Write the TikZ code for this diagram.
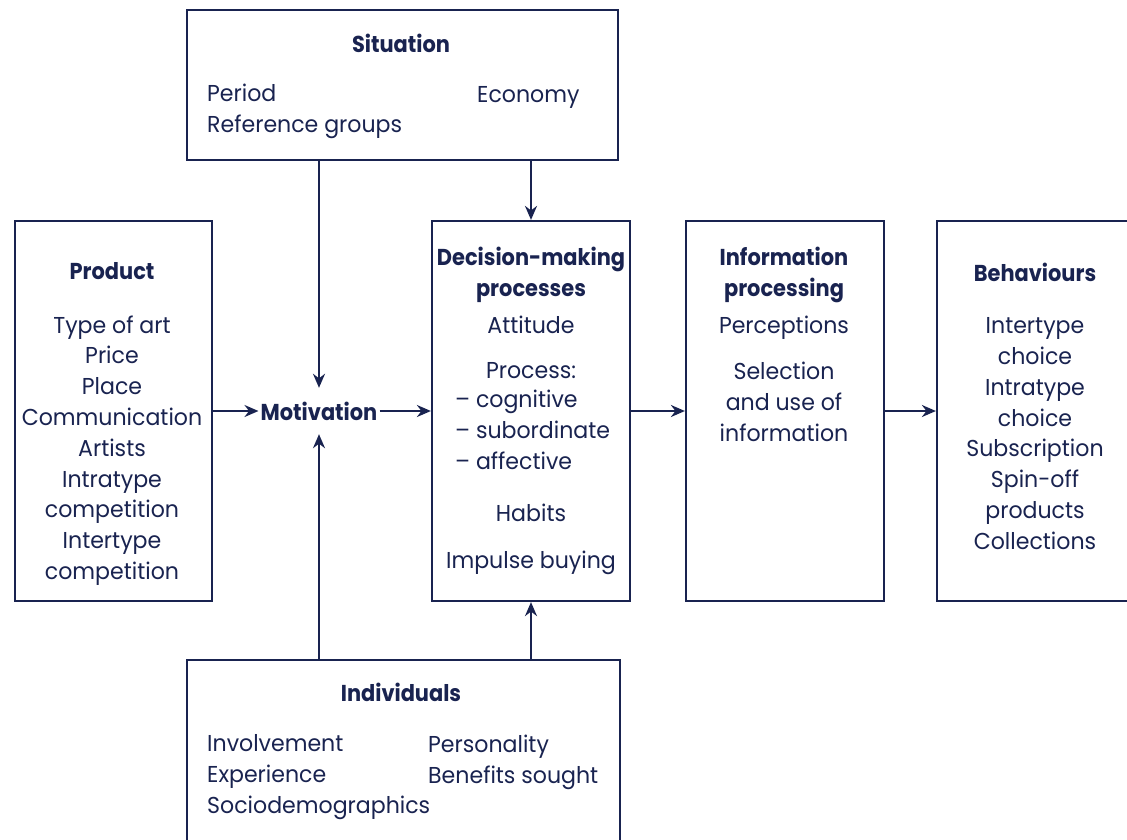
\documentclass[tikz,border=0pt]{standalone}
\usepackage{fontspec}
\setmainfont{Poppins}[FakeStretch=0.96]
\newfontfamily\titlefont{Poppins}[FakeStretch=0.91]
\usetikzlibrary{arrows.meta}
\definecolor{navy}{RGB}{25,35,80}
\begin{document}
\begin{tikzpicture}[x=1pt,y=-1pt,
  every node/.style={text=navy,font=\fontsize{23}{30.8}\selectfont},
  box/.style={draw=navy,line width=2.2pt,rectangle,inner sep=0pt},
  ttl/.style={font=\fontsize{23}{30.8}\selectfont\titlefont\bfseries,align=center},
  txt/.style={align=center,inner sep=0pt},
  ltxt/.style={align=left,anchor=west,inner sep=0pt},
  arr/.style={draw=navy,line width=2.2pt,-{Stealth[length=14pt,width=12pt]}}]
\useasboundingbox (0,0) rectangle (1127,839);
% boxes
\node[box,minimum width=431pt,minimum height=150pt] (sit) at (402.5,85) {};
\node[box,minimum width=197pt,minimum height=380pt] (prod) at (113.5,411) {};
\node[box,minimum width=198pt,minimum height=380pt] (dec) at (531,411) {};
\node[box,minimum width=198pt,minimum height=380pt] (info) at (785,411) {};
\node[box,minimum width=198pt,minimum height=380pt] (beh) at (1036,411) {};
\node[box,minimum width=433pt,minimum height=220pt] (ind) at (403.5,770) {};
% situation
\node[ttl] (sitt) at (401,43) {Situation};
\node[ltxt] (sit1) at (207,111) {Period\\Reference groups};
\node[ltxt] (sit2) at (477,97) {Economy};
% product
\node[ttl] (prodt) at (112,271) {Product};
\node[txt] (prodi) at (112,450.5) {Type of art\\Price\\Place\\Communication\\Artists\\Intratype\\competition\\Intertype\\competition};
% motivation
\node[ttl,inner xsep=2pt,minimum height=46pt] (mot) at (319,411) {Motivation};
% decision
\node[ttl,inner sep=0pt] (dect) at (531,274.5) {Decision-making\\processes};
\node[txt] (dec1) at (531,325) {Attitude};
\node[txt] (dec2) at (531,371) {Process:};
\node[ltxt] (dec3) at (455,430) {– cognitive\\– subordinate\\– affective};
\node[txt] (dec4) at (531,513) {Habits};
\node[txt] (dec5) at (531,563) {Impulse buying};
% information
\node[ttl,inner sep=0pt] (infot) at (784,275) {Information\\processing};
\node[txt] (info1) at (784,328) {Perceptions};
\node[txt] (info2) at (784,402) {Selection\\and use of\\information};
% behaviours
\node[ttl] (beht) at (1035,272) {Behaviours};
\node[txt] (behi) at (1035,433.5) {Intertype\\choice\\Intratype\\choice\\Subscription\\Spin-off\\products\\Collections};
% individuals
\node[ttl] (indt) at (401,692) {Individuals};
\node[ltxt] (ind1) at (207,777) {Involvement\\Experience\\Sociodemographics};
\node[ltxt] (ind2) at (428,762) {Personality\\Benefits sought};
% connectors
\draw[arr] (sit.south -| mot.north) -- (mot.north);
\draw[arr] (sit.south -| dec.north) -- (dec.north);
\draw[arr] (ind.north -| mot.south) -- (mot.south);
\draw[arr] (ind.north -| dec.south) -- (dec.south);
\draw[arr] (prod.east) -- (mot.west);
\draw[arr] (mot.east) -- (dec.west);
\draw[arr] (dec.east) -- (info.west);
\draw[arr] (info.east) -- (beh.west);
\end{tikzpicture}
\end{document}
